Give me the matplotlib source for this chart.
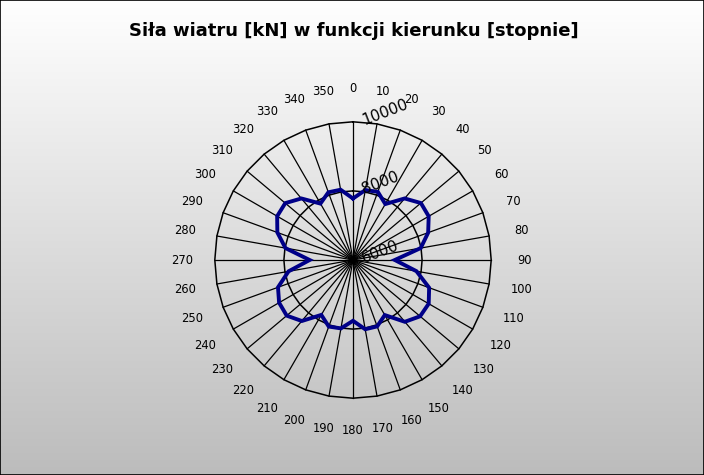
import numpy as np
import matplotlib
matplotlib.use("Agg")
import matplotlib.pyplot as plt
from matplotlib.transforms import offset_copy
from matplotlib.patches import Rectangle

# Wind force [kN] for each direction [degrees]
directions = list(range(0, 360, 10))
force = [
    7780, 8055, 8100, 7870, 8325, 8565, 8530, 8315, 7990,   # 0..80
    7210, 7865, 8345, 8530, 8535, 8335, 7840, 8045, 8035,   # 90..170
    7760, 8010, 8050, 7835, 8305, 8505, 8470, 8310, 7895,   # 180..260
    7255, 7985, 8330, 8535, 8560, 8325, 7885, 8085, 8065,   # 270..350
]
radial_ticks = [6000, 8000, 10000]
angle_labels = [str(d) for d in directions]
title = "Siła wiatru [kN] w funkcji kierunku [stopnie]"

W, H, DPI = 704, 475, 100
fig = plt.figure(figsize=(W / DPI, H / DPI), dpi=DPI)

# vertical white-to-grey gradient behind everything
bg = fig.add_axes([0, 0, 1, 1], zorder=-10)
grad = np.linspace(255, 188, 256)[:, None] / 255.0
bg.imshow(np.dstack([grad, grad, grad]), aspect="auto", extent=[0, 1, 0, 1],
          interpolation="bilinear")
bg.set_axis_off()
fig.patches.append(Rectangle((0, 0), 1, 1, transform=fig.transFigure,
                             fill=False, edgecolor="black", linewidth=1.2))

# polar plot area
cx, cy, R = 353, 260, 138.2
ax = fig.add_axes([(cx - R) / W, (H - cy - R) / H, 2 * R / W, 2 * R / H],
                  projection="polar")
ax.patch.set_alpha(0)
ax.set_theta_zero_location("N")
ax.set_theta_direction(-1)
rmin, rmax = radial_ticks[0], radial_ticks[-1]
ax.set_ylim(rmin, rmax)
ax.grid(False)
ax.set_xticks([])
ax.set_yticks([])
ax.spines["polar"].set_visible(False)

theta = np.deg2rad(directions)

# spokes
for t in theta:
    ax.plot([t, t], [rmin, rmax], color="black", lw=0.9, clip_on=False, zorder=2)

# polygonal grid rings
tc = np.append(theta, theta[0])
for r in radial_ticks[1:]:
    ax.plot(tc, [r] * len(tc), color="black", lw=1.1, clip_on=False, zorder=2)

# data curve
fc = force + [force[0]]
ax.plot(tc, fc, color="#000088", lw=2.8, solid_joinstyle="miter", zorder=3)

# angle labels around the outside
px_per_unit = R / (rmax - rmin)
r_lab = rmin + 171 / px_per_unit
for t, lab in zip(theta, angle_labels):
    ax.text(t, r_lab, lab, ha="center", va="center", fontsize=8.3,
            clip_on=False, color="black")

# radial scale labels next to the 0-degree spoke
tr = offset_copy(ax.transData, fig=fig, x=11, y=-3, units="dots")
for r in radial_ticks:
    ax.text(0, r, str(r), transform=tr, rotation=21, rotation_mode="anchor",
            ha="left", va="baseline", fontsize=11, clip_on=False)

fig.text(354 / W, 1 - 31.5 / H, title, ha="center", va="center",
         fontsize=13, fontweight="bold")

fig.savefig("out.png", dpi=DPI)
